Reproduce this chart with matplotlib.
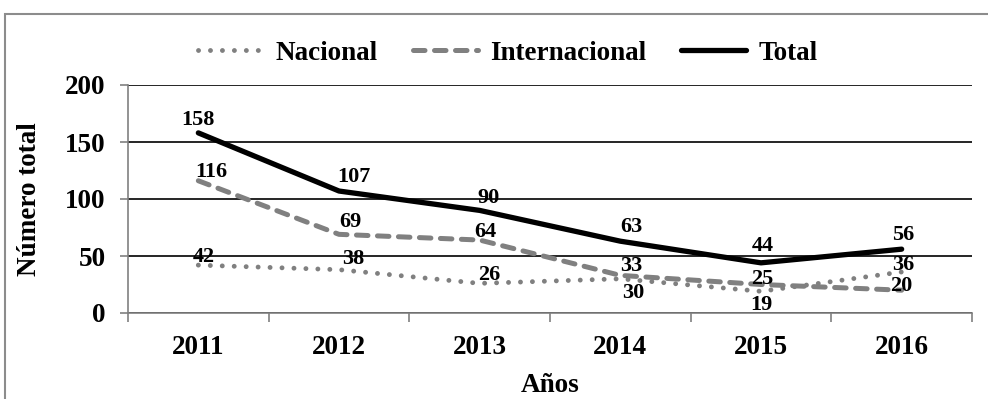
import matplotlib.pyplot as plt
from matplotlib.patches import Rectangle

# Datos por año
anios = ["2011", "2012", "2013", "2014", "2015", "2016"]
nacional = [42, 38, 26, 30, 19, 36]
internacional = [116, 69, 64, 33, 25, 20]
total = [158, 107, 90, 63, 44, 56]

# Desplazamiento de las etiquetas de datos (puntos)
off_total = [(0, 9), (11, 10), (6, 9), (8, 10), (1, 12), (1, 10)]
off_inter = [(9, 6), (8, 9), (4, 6), (8, 7), (1, 4), (0, 3)]
off_nac = [(4, 6), (10, 8), (7, 6), (9, -10), (0, -10), (1, 5)]

plt.rcParams['font.family'] = ['Liberation Serif', 'DejaVu Serif']
plt.rcParams['font.weight'] = 'bold'

fig = plt.figure(figsize=(9.88, 3.99), dpi=100)
ax = fig.add_axes([128 / 988, 1 - 313 / 399, 844 / 988, 228 / 399])

x = list(range(len(anios)))
gris = '#808080'
tam = 19.5

ax.plot(x, nacional, color=gris, linewidth=3.5, linestyle=(0, (0.01, 2.45)),
        dash_capstyle='round', label="Nacional", zorder=3)
ax.plot(x, internacional, color=gris, linewidth=3.6, linestyle=(0, (2.3, 1.9)),
        dash_capstyle='round', label="Internacional", zorder=3)
ax.plot(x, total, color='black', linewidth=3.8, solid_capstyle='round',
        label="Total", zorder=4)

# Etiquetas con el valor de cada punto
for serie, offs in ((total, off_total), (internacional, off_inter), (nacional, off_nac)):
    for xi, v, (dx, dy) in zip(x, serie, offs):
        ax.annotate(str(v), (xi, v), xytext=(dx, dy), textcoords='offset points',
                    ha='center', va='center', fontsize=16, fontweight='bold', zorder=5)

# Ejes
ax.set_xlim(-0.5, len(anios) - 0.5)
ax.set_ylim(0, 200)
ax.set_yticks([0, 50, 100, 150, 200])
ax.set_xticks([i - 0.5 for i in range(len(anios) + 1)])
ax.set_xticklabels([])
ax.set_xticks(x, minor=True)
ax.set_xticklabels(anios, minor=True)
ax.tick_params(axis='x', which='major', length=6.5, width=1.2, color=gris, direction='out')
ax.tick_params(axis='x', which='minor', length=0, pad=16, labelsize=tam)
ax.tick_params(axis='y', length=6, width=1.2, color=gris, pad=10, labelsize=tam)

ax.grid(axis='y', color='black', linewidth=1.2)
ax.set_axisbelow(True)
for lado in ('top', 'right'):
    ax.spines[lado].set_visible(False)
for lado in ('left', 'bottom'):
    ax.spines[lado].set_color(gris)
    ax.spines[lado].set_linewidth(1.2)
    ax.spines[lado].set_zorder(2.5)

ax.set_ylabel("Número total", fontsize=tam, fontweight='bold')
ax.yaxis.set_label_coords(42 / 988, 0.5, transform=fig.transFigure)
ax.set_xlabel("Años", fontsize=tam, fontweight='bold', va='baseline')
ax.xaxis.set_label_coords(550 / 988, 1 - 392 / 399, transform=fig.transFigure)

fig.legend(loc='center', bbox_to_anchor=(508 / 988, 1 - 53 / 399), ncol=3,
           frameon=False, fontsize=tam, handlelength=2.4, handletextpad=0.45,
           columnspacing=1.3)

# Marco del gráfico
fig.patches.append(Rectangle((5 / 988, -0.1), 1.1, 1.1 - 14 / 399,
                             transform=fig.transFigure, fill=False,
                             edgecolor='#8c8c8c', linewidth=1.5))

fig.savefig("out.png", dpi=100)
